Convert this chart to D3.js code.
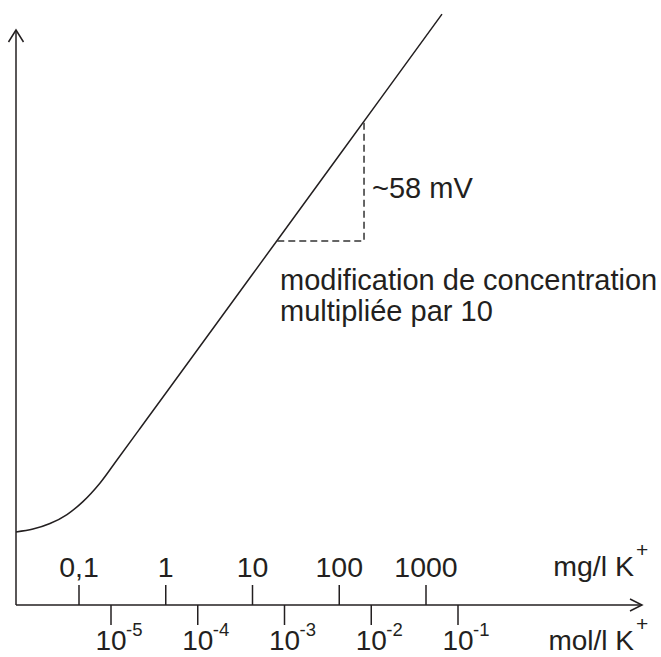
<!DOCTYPE html>
<html>
<head>
<meta charset="utf-8">
<script src="https://cdn.jsdelivr.net/npm/d3@7"></script>
<style>
    body { margin: 0; background: #fff; }
    text { font-family: "Liberation Sans", Arial, sans-serif; fill: #231f20; }
</style>
</head>
<body>
<div id="canvas"></div>
<script>
"use strict"

/* ************ data ***** */
let mgTicks = [0.1, 1, 10, 100, 1000];
let mgLabels = ["0,1", "1", "10", "100", "1000"];
let molTicks = [1e-5, 1e-4, 1e-3, 1e-2, 1e-1];
let molExponents = ["-5", "-4", "-3", "-2", "-1"];

// electrode potential (mV, arbitrary zero at the x axis) against K+ in mg/l
let curveConc = [0.0188, 0.0295, 0.0463, 0.0727, 0.111, 0.175, 0.274, 0.5, 1, 10, 100, 1529];
let curveMv = [35.6, 37.0, 39.7, 44.1, 50.4, 59.5, 70.7, 85.8, 103.2, 161.2, 219.2, 288];

// one decade step on the straight part: ~58 mV
let stepConc = [19.3, 193];
let stepMv = [177.4, 235.4];

/* ************ drawing ***** */
let drawing = d3.select("#canvas")
    .append("svg")
    .attr("width", 661)
    .attr("height", 657);

let x = d3.scaleLog().domain([0.1, 1000]).range([79, 426]);
let xMol = d3.scaleLog().domain([1e-5, 1e-1]).range([111, 458]);
let y = d3.scaleLinear().domain([0, 58]).range([605, 486]);

let ink = "#231f20";
let x0 = 16, y0 = y(0);
let xEnd = 642, yTop = 30;

// axes with open arrow heads
drawing.append("line")
    .attr("x1", x0).attr("y1", y0).attr("x2", x0).attr("y2", yTop)
    .attr("stroke", ink).attr("stroke-width", 1.5);
drawing.append("line")
    .attr("x1", x0).attr("y1", y0).attr("x2", xEnd).attr("y2", y0)
    .attr("stroke", ink).attr("stroke-width", 1.5);
drawing.append("path")
    .attr("d", `M${x0 - 7.5},${yTop + 12}L${x0},${yTop}L${x0 + 7.5},${yTop + 12}`)
    .attr("fill", "none").attr("stroke", ink).attr("stroke-width", 1.5);
drawing.append("path")
    .attr("d", `M${xEnd - 12},${y0 - 6}L${xEnd},${y0}L${xEnd - 12},${y0 + 6}`)
    .attr("fill", "none").attr("stroke", ink).attr("stroke-width", 1.5);

// mg/l ticks above the axis
drawing.selectAll(".mgTick")
    .data(mgTicks)
    .enter().append("line")
    .attr("x1", d => x(d)).attr("x2", d => x(d))
    .attr("y1", y0 - 20).attr("y2", y0)
    .attr("stroke", ink).attr("stroke-width", 1.5);

drawing.selectAll(".mgLabel")
    .data(mgTicks)
    .enter().append("text")
    .attr("x", d => x(d))
    .attr("y", y0 - 28)
    .attr("text-anchor", "middle")
    .attr("font-size", 28.5)
    .text((d, i) => mgLabels[i]);

// mol/l ticks below the axis
drawing.selectAll(".molTick")
    .data(molTicks)
    .enter().append("line")
    .attr("x1", d => xMol(d)).attr("x2", d => xMol(d))
    .attr("y1", y0).attr("y2", y0 + 20)
    .attr("stroke", ink).attr("stroke-width", 1.5);

let molLabel = drawing.selectAll(".molLabel")
    .data(molTicks)
    .enter().append("g");
molLabel.append("text")
    .attr("x", d => xMol(d))
    .attr("y", y0 + 45)
    .attr("text-anchor", "middle")
    .attr("font-size", 28)
    .text("10");
molLabel.append("text")
    .attr("x", d => xMol(d) + 15)
    .attr("y", y0 + 31)
    .attr("font-size", 18.5)
    .text((d, i) => molExponents[i]);

// unit names at the right end
drawing.append("text")
    .attr("x", 634).attr("y", y0 - 29)
    .attr("text-anchor", "end").attr("font-size", 28.5)
    .text("mg/l K");
drawing.append("text")
    .attr("x", 636).attr("y", y0 - 48)
    .attr("font-size", 21)
    .text("+");
drawing.append("text")
    .attr("x", 634).attr("y", y0 + 45)
    .attr("text-anchor", "end").attr("font-size", 28)
    .text("mol/l K");
drawing.append("text")
    .attr("x", 636).attr("y", y0 + 26)
    .attr("font-size", 21)
    .text("+");

// response curve
let points = curveConc.map((c, i) => [x(c), y(curveMv[i])]);
drawing.append("path")
    .attr("d", d3.line().curve(d3.curveCatmullRom.alpha(0.5))(points))
    .attr("fill", "none")
    .attr("stroke", ink)
    .attr("stroke-width", 1.5);

// dashed decade step
drawing.append("path")
    .attr("d", `M${x(stepConc[0])},${y(stepMv[0])}H${x(stepConc[1])}V${y(stepMv[1])}`)
    .attr("fill", "none")
    .attr("stroke", "#333")
    .attr("stroke-width", 1.5)
    .attr("stroke-dasharray", "7,4");

drawing.append("text")
    .attr("x", x(stepConc[1]) + 8)
    .attr("y", 198)
    .attr("font-size", 29)
    .text("~58 mV");

drawing.append("text")
    .attr("x", 280).attr("y", 290)
    .attr("font-size", 29)
    .text("modification de concentration");
drawing.append("text")
    .attr("x", 280).attr("y", 321)
    .attr("font-size", 29)
    .text("multipliée par 10");
</script>
</body>
</html>
